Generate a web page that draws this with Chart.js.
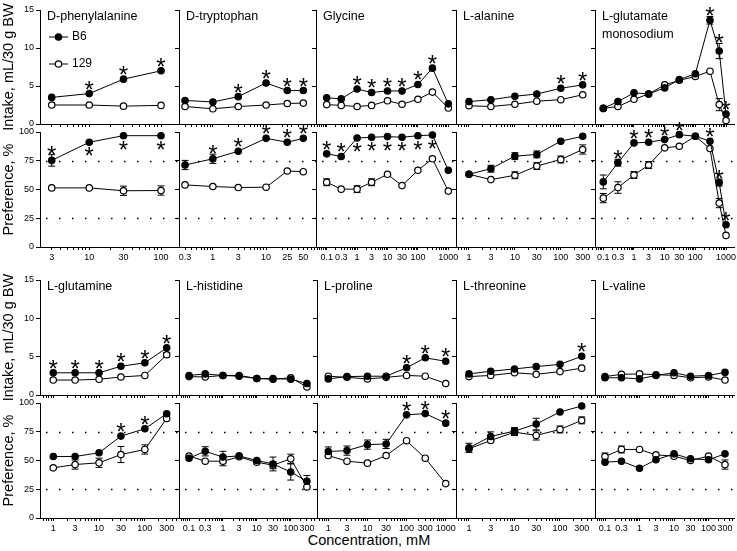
<!DOCTYPE html>
<html>
<head>
<meta charset="utf-8">
<script src="https://cdn.jsdelivr.net/npm/chart.js@4.4.0/dist/chart.umd.min.js"></script>
<style>
  body { margin: 0; background: #fff; width: 737px; height: 551px; position: relative; overflow: hidden; }
  canvas { position: absolute; }
  #xtitle { position: absolute; left: 369px; top: 532px; transform: translateX(-50%);
            font: 14.5px "Liberation Sans", Arial, sans-serif; color: #000; white-space: nowrap; }
</style>
</head>
<body>
<div id="xtitle">Concentration, mM</div>
<script>
// --- data (intake mL/30 g BW, preference %) ---

// D-phenylalanine
const pheConc = [3, 10, 30, 100];
const pheTicks = ['3', '10', '30', '100'];
const pheIntakeB6 = [3.5, 4.0, 5.9, 7.0];
const pheIntake129 = [2.5, 2.5, 2.35, 2.45];
const phePrefB6 = [75.3, 91.1, 96.8, 96.8];
const phePref129 = [51.4, 51.4, 48.9, 49.1];
const phePrefErrB6 = [5, 0, 0, 0];
const phePrefErr129 = [0, 0, 4, 4];
const pheStarIntake = [0, 1, 1, 1];
const pheStarPref = [1, -1, -1, -1];

// D-tryptophan
const trpConc = [0.3, 1, 3, 10, 25, 50];
const trpTicks = ['0.3', '1', '3', '10', '25', '50'];
const trpIntakeB6 = [3.1, 2.9, 3.6, 5.4, 4.4, 4.4];
const trpIntake129 = [2.3, 2.0, 2.3, 2.5, 2.7, 2.75];
const trpPrefB6 = [71.3, 76.7, 83.3, 94.5, 91.1, 94.5];
const trpPref129 = [54.0, 52.6, 51.7, 52.0, 66.1, 65.5];
const trpPrefErrB6 = [4, 4, 0, 0, 0, 0];
const trpStarIntake = [0, 0, 1, 1, 1, 1];
const trpStarPref = [0, 1, 1, 1, 1, 1];

// Glycine
const glyConc = [0.1, 0.3, 1, 3, 10, 30, 100, 300, 1000];
const glyTicks = ['0.1', '0.3', '1', '3', '10', '30', '100', '1000'];
const glyIntakeB6 = [3.45, 3.3, 4.6, 4.15, 4.35, 4.35, 5.2, 7.35, 2.65];
const glyIntake129 = [2.55, 2.45, 2.3, 2.45, 3.05, 2.6, 3.25, 4.2, 2.1];
const glyPrefB6 = [81.0, 78.7, 94.8, 95.4, 96.0, 95.4, 96.8, 97.4, 66.7];
const glyPref129 = [56.3, 50.3, 50.3, 56.3, 63.2, 53.4, 66.7, 76.7, 48.6];
const glyPrefErr129 = [3, 0, 3, 3, 0, 0, 0, 0, 0];
const glyStarIntake = [0, 0, 1, 1, 1, 1, 1, 1, 0];
const glyStarPref = [1, 1, -1, -1, -1, -1, -1, -1, 0];

// L-alanine
const alaConc = [1, 3, 10, 30, 100, 300];
const alaTicks = ['1', '3', '10', '30', '100', '300'];
const alaIntakeB6 = [2.95, 3.2, 3.65, 3.95, 4.7, 5.15];
const alaIntake129 = [2.4, 2.3, 2.6, 3.0, 3.2, 3.85];
const alaPrefB6 = [63.2, 68.1, 79.0, 80.5, 92.0, 96.3];
const alaPref129 = [63.2, 58.6, 62.4, 70.4, 76.1, 84.8];
const alaPrefErrB6 = [0, 3, 3, 3, 0, 0];
const alaPrefErr129 = [0, 0, 3, 3, 3, 4];
const alaStarIntake = [0, 0, 0, 0, 1, 1];

// L-glutamate monosodium
const msgConc = [0.1, 0.3, 1, 3, 10, 30, 100, 300, 600, 1000];
const msgTicks = ['0.1', '0.3', '1', '3', '10', '30', '100', '1000'];
const msgIntakeB6 = [2.05, 2.95, 4.1, 3.95, 4.75, 5.85, 6.6, 13.65, 9.6, 1.3];
const msgIntake129 = [2.05, 2.3, 3.25, 3.95, 5.15, 5.75, 6.25, 6.95, 2.55, 0.45];
const msgIntakeErrB6 = [0, 0, 0, 0, 0, 0, 0, 0.5, 1.0, 0];
const msgIntakeErr129 = [0, 0, 0, 0, 0, 0, 0, 0, 0.8, 0];
const msgPrefB6 = [56.6, 73.3, 90.5, 91.1, 93.4, 97.7, 96.3, 92.0, 56.0, 19.3];
const msgPref129 = [42.5, 51.7, 62.6, 71.3, 86.2, 87.6, 96.3, 85.6, 38.2, 10.1];
const msgPrefErrB6 = [6, 3, 0, 0, 0, 0, 0, 0, 3, 0];
const msgPrefErr129 = [4, 5, 3, 3, 0, 0, 0, 0, 4, 0];
const msgStarIntake = [0, 0, 0, 0, 0, 0, 0, 1, 1, 1];
const msgStarPref = [0, 1, 1, 1, 1, 1, 0, 1, 1, 1];

// L-glutamine
const glnConc = [1, 3, 10, 30, 100, 300];
const glnTicks = ['1', '3', '10', '30', '100', '300'];
const glnIntakeB6 = [2.9, 2.9, 2.9, 3.75, 4.2, 6.15];
const glnIntake129 = [1.95, 1.95, 2.05, 2.35, 2.55, 5.25];
const glnIntakeErr129 = [0, 0, 0, 0, 0, 0.3];
const glnPrefB6 = [53.5, 53.5, 56.7, 71.2, 77.6, 90.7];
const glnPref129 = [43.6, 46.5, 48.0, 55.2, 59.6, 86.6];
const glnPrefErr129 = [0, 4, 4, 7, 4, 0];
const glnStarIntake = [1, 1, 1, 1, 1, 1];
const glnStarPref = [0, 0, 0, 1, 1, 0];

// L-histidine
const hisConc = [0.1, 0.3, 1, 3, 10, 30, 100, 300];
const hisTicks = ['0.1', '0.3', '1', '3', '10', '30', '100', '300'];
const hisIntakeB6 = [2.55, 2.75, 2.55, 2.55, 2.15, 2.15, 2.05, 1.5];
const hisIntake129 = [2.4, 2.35, 2.55, 2.45, 2.15, 2.05, 2.25, 1.05];
const hisPrefB6 = [52, 58, 53, 54, 50, 47, 40, 32];
const hisPref129 = [53.8, 49.4, 49.4, 53.2, 48.5, 45.9, 51.5, 27];
const hisPrefErrB6 = [0, 4, 5, 0, 0, 6, 7, 5];
const hisPrefErr129 = [0, 0, 4, 0, 0, 3, 4, 0];

// L-proline
const proConc = [1, 3, 10, 30, 100, 300, 1000];
const proTicks = ['1', '3', '10', '30', '100', '300', '1000'];
const proIntakeB6 = [2.1, 2.4, 2.45, 2.45, 3.55, 4.85, 4.4];
const proIntake129 = [2.45, 2.3, 2.1, 2.3, 2.55, 2.45, 1.5];
const proPrefB6 = [57.8, 58.6, 63.8, 64.4, 89.7, 90.8, 82.5];
const proPref129 = [54.3, 49.4, 47.7, 54.3, 67.2, 52.0, 29.9];
const proPrefErrB6 = [4, 4, 4, 4, 0, 0, 0];
const proStarIntake = [0, 0, 0, 0, 1, 1, 1];
const proStarPref = [0, 0, 0, 0, 1, 1, 1];

// L-threonine
const thrConc = [1, 3, 10, 30, 100, 300];
const thrTicks = ['1', '3', '10', '30', '100', '300'];
const thrIntakeB6 = [2.75, 3.1, 3.4, 3.7, 4.0, 5.05];
const thrIntake129 = [2.4, 2.55, 2.9, 2.7, 3.05, 3.5];
const thrPrefB6 = [61.0, 70.9, 75.6, 81.7, 92.2, 97.4];
const thrPref129 = [60.2, 67.4, 74.7, 71.8, 77.0, 84.9];
const thrPrefErrB6 = [4, 4, 3, 5, 0, 0];
const thrPrefErr129 = [0, 0, 3, 4, 3, 3];
const thrStarIntake = [0, 0, 0, 0, 0, 1];

// L-valine
const valConc = [0.1, 0.3, 1, 3, 10, 30, 100, 300];
const valTicks = ['0.1', '0.3', '1', '3', '10', '30', '100', '300'];
const valIntakeB6 = [2.25, 2.25, 2.1, 2.55, 2.9, 2.45, 2.55, 2.95];
const valIntake129 = [2.4, 2.7, 2.75, 2.65, 2.55, 2.25, 2.35, 1.95];
const valPrefB6 = [48.5, 49.4, 43.3, 50.6, 55.8, 51.5, 50.6, 55.8];
const valPref129 = [53.5, 59.6, 59.6, 54.9, 53.8, 50.0, 53.8, 46.5];
const valPrefErr129 = [3, 3, 0, 0, 0, 0, 0, 4];

const seriesNames = ['B6', '129'];

// panel list, in reading order
const panels = [
  { title: ['D-phenylalanine'], conc: pheConc, ticks: pheTicks, xMin: 2.06, xMax: 178,
    intake: [pheIntakeB6, pheIntake129], pref: [phePrefB6, phePref129],
    intakeErr: [], prefErr: [phePrefErrB6, phePrefErr129], intakeStars: pheStarIntake, prefStars: pheStarPref },
  { title: ['D-tryptophan'], conc: trpConc, ticks: trpTicks, xMin: 0.231, xMax: 86.6,
    intake: [trpIntakeB6, trpIntake129], pref: [trpPrefB6, trpPref129],
    intakeErr: [], prefErr: [trpPrefErrB6], intakeStars: trpStarIntake, prefStars: trpStarPref },
  { title: ['Glycine'], conc: glyConc, ticks: glyTicks, xMin: 0.0445, xMax: 1790,
    intake: [glyIntakeB6, glyIntake129], pref: [glyPrefB6, glyPref129],
    intakeErr: [], prefErr: [null, glyPrefErr129], intakeStars: glyStarIntake, prefStars: glyStarPref },
  { title: ['L-alanine'], conc: alaConc, ticks: alaTicks, xMin: 0.521, xMax: 556,
    intake: [alaIntakeB6, alaIntake129], pref: [alaPrefB6, alaPref129],
    intakeErr: [], prefErr: [alaPrefErrB6, alaPrefErr129], intakeStars: alaStarIntake, prefStars: null },
  { title: ['L-glutamate', 'monosodium'], conc: msgConc, ticks: msgTicks, xMin: 0.0536, xMax: 1820,
    intake: [msgIntakeB6, msgIntake129], pref: [msgPrefB6, msgPref129],
    intakeErr: [msgIntakeErrB6, msgIntakeErr129], prefErr: [msgPrefErrB6, msgPrefErr129],
    intakeStars: msgStarIntake, prefStars: msgStarPref },
  { title: ['L-glutamine'], conc: glnConc, ticks: glnTicks, xMin: 0.513, xMax: 557,
    intake: [glnIntakeB6, glnIntake129], pref: [glnPrefB6, glnPref129],
    intakeErr: [null, glnIntakeErr129], prefErr: [null, glnPrefErr129], intakeStars: glnStarIntake, prefStars: glnStarPref },
  { title: ['L-histidine'], conc: hisConc, ticks: hisTicks, xMin: 0.0505, xMax: 595,
    intake: [hisIntakeB6, hisIntake129], pref: [hisPrefB6, hisPref129],
    intakeErr: [], prefErr: [hisPrefErrB6, hisPrefErr129], intakeStars: null, prefStars: null },
  { title: ['L-proline'], conc: proConc, ticks: proTicks, xMin: 0.514, xMax: 1832,
    intake: [proIntakeB6, proIntake129], pref: [proPrefB6, proPref129],
    intakeErr: [], prefErr: [proPrefErrB6], intakeStars: proStarIntake, prefStars: proStarPref },
  { title: ['L-threonine'], conc: thrConc, ticks: thrTicks, xMin: 0.518, xMax: 588,
    intake: [thrIntakeB6, thrIntake129], pref: [thrPrefB6, thrPref129],
    intakeErr: [], prefErr: [thrPrefErrB6, thrPrefErr129], intakeStars: thrStarIntake, prefStars: null },
  { title: ['L-valine'], conc: valConc, ticks: valTicks, xMin: 0.0513, xMax: 547,
    intake: [valIntakeB6, valIntake129], pref: [valPrefB6, valPref129],
    intakeErr: [], prefErr: [null, valPrefErr129], intakeStars: null, prefStars: null }
];

// page layout
const colLeft = [[40, 179, 316, 456, 595], [40, 179, 317, 456, 595]];
const lastRight = 734;
const rowBox = [
  { intake: [10, 124], pref: [132, 247] },
  { intake: [280, 395], pref: [403, 518] }
];

const FONT = '"Liberation Sans", Arial, sans-serif';
const TICK_FONT = { family: FONT, size: 9 };
Chart.defaults.font.family = FONT;
Chart.defaults.color = '#000';

// log axis ticks: every 1..9 x 10^k plus the labelled ones
function logTicks(min, max, labels) {
  const vals = [];
  for (let e = Math.floor(Math.log10(min)); e <= Math.ceil(Math.log10(max)); e++) {
    for (let m = 1; m <= 9; m++) {
      const v = +(m * Math.pow(10, e)).toPrecision(6);
      if (v >= min && v <= max) vals.push(v);
    }
  }
  labels.forEach(t => { const v = parseFloat(t); if (!vals.includes(v)) vals.push(v); });
  vals.sort((a, b) => a - b);
  return vals.map(v => ({ value: v, txt: labels.find(t => parseFloat(t) === v) || '' }));
}

// error bars, reference dots, stars, titles, legend
function extras(info) {
  return {
    id: 'extras',
    beforeDatasetsDraw(chart) {
      const ctx = chart.ctx, a = chart.chartArea, ys = chart.scales.y;
      ctx.save();
      ctx.strokeStyle = '#000';
      if (info.kind === 'pref') {
        ctx.lineWidth = 1.5;
        ctx.setLineDash([1.5, 11.5]);
        [25, 75].forEach(v => {
          const py = Math.round(ys.getPixelForValue(v)) + 0.5;
          ctx.beginPath(); ctx.moveTo(a.left + 6, py); ctx.lineTo(a.right, py); ctx.stroke();
        });
        ctx.setLineDash([]);
      }
      ctx.lineWidth = 1;
      chart.data.datasets.forEach((ds, i) => {
        const err = info.err[i];
        if (!err) return;
        chart.getDatasetMeta(i).data.forEach((pt, j) => {
          if (!err[j]) return;
          const v = ds.data[j].y;
          const t = ys.getPixelForValue(v + err[j]), b = ys.getPixelForValue(v - err[j]);
          ctx.beginPath();
          ctx.moveTo(pt.x, t); ctx.lineTo(pt.x, b);
          ctx.moveTo(pt.x - 3.5, t); ctx.lineTo(pt.x + 3.5, t);
          ctx.moveTo(pt.x - 3.5, b); ctx.lineTo(pt.x + 3.5, b);
          ctx.stroke();
        });
      });
      ctx.restore();
    },
    afterDatasetsDraw(chart) {
      const ctx = chart.ctx, a = chart.chartArea, ys = chart.scales.y;
      ctx.save();
      ctx.fillStyle = '#000';
      if (info.stars) {
        const err = info.err[0] || [];
        const ds = chart.data.datasets[0];
        ctx.font = '24px ' + FONT;
        ctx.textAlign = 'center';
        ctx.textBaseline = 'alphabetic';
        chart.getDatasetMeta(0).data.forEach((pt, j) => {
          const s = info.stars[j];
          if (!s) return;
          const ePx = err[j] ? pt.y - ys.getPixelForValue(ds.data[j].y + err[j]) : 0;
          const cy = s > 0 ? pt.y - Math.max(10, ePx + 6) : pt.y + 8;
          ctx.fillText('*', pt.x, cy + 14);
        });
      }
      if (info.title) {
        ctx.font = '12.5px ' + FONT;
        ctx.textAlign = 'left';
        ctx.textBaseline = 'middle';
        info.title.forEach((line, k) => ctx.fillText(line, a.left + 7, a.top + 7 + k * 18));
      }
      if (info.legend) {
        const sets = chart.data.datasets;
        sets.forEach((ds, k) => {
          const y = a.top + 27 + k * 27, x0 = a.left + 9, x1 = a.left + 28, xm = (x0 + x1) / 2;
          ctx.strokeStyle = '#000'; ctx.lineWidth = 1;
          ctx.beginPath(); ctx.moveTo(x0, y); ctx.lineTo(x1, y); ctx.stroke();
          ctx.beginPath(); ctx.arc(xm, y, ds.pointRadius, 0, Math.PI * 2);
          ctx.fillStyle = ds.pointBackgroundColor; ctx.fill();
          ctx.lineWidth = ds.pointBorderWidth; ctx.stroke();
          ctx.fillStyle = '#000';
          ctx.font = '12px ' + FONT;
          ctx.textAlign = 'left'; ctx.textBaseline = 'middle';
          ctx.fillText(ds.label, x1 + 4, y);
        });
      }
      ctx.restore();
    }
  };
}

function makeChart(p, idx, kind) {
  const row = idx < 5 ? 0 : 1, col = idx % 5;
  const L = colLeft[row][col], R = col < 4 ? colLeft[row][col + 1] : lastRight;
  const [T, B] = rowBox[row][kind];
  const mb = kind === 'pref' ? 22 : 8;
  const cv = document.createElement('canvas');
  cv.width = R - L + 48;
  cv.height = B - T + 14 + mb;
  cv.style.left = (L - 40) + 'px';
  cv.style.top = (T - 14) + 'px';
  document.body.appendChild(cv);

  const vals = p[kind];
  const datasets = vals.map((arr, k) => ({
    label: seriesNames[k],
    data: p.conc.map((c, j) => ({ x: c, y: arr[j] })),
    borderColor: '#000',
    borderWidth: 1,
    pointRadius: 3.2,
    pointBorderWidth: 1.2,
    pointBorderColor: '#000',
    pointBackgroundColor: k === 0 ? '#000' : '#fff',
    tension: 0,
    clip: false
  }));
  const isPref = kind === 'pref';
  const xTicks = logTicks(p.xMin, p.xMax, p.ticks);

  new Chart(cv, {
    type: 'line',
    data: { datasets },
    options: {
      responsive: false,
      animation: false,
      events: [],
      layout: { padding: { left: 0, right: 8, top: 14, bottom: 0 } },
      plugins: { legend: { display: false }, tooltip: { enabled: false } },
      scales: {
        x: {
          type: 'logarithmic',
          min: p.xMin, max: p.xMax,
          afterBuildTicks: s => { s.ticks = xTicks.map(t => ({ value: t.value, txt: t.txt })); },
          afterFit: s => { s.height = mb; },
          ticks: {
            autoSkip: false, maxRotation: 0, minRotation: 0, padding: 2,
            font: TICK_FONT, color: '#000',
            callback: (v, i, t) => isPref ? t[i].txt : ''
          },
          grid: { drawOnChartArea: false, tickLength: 3, tickColor: '#000', tickWidth: 1 },
          border: { color: '#000', width: 1 }
        },
        y: {
          min: 0, max: isPref ? 100 : 15,
          afterFit: s => { s.width = 40; },
          ticks: {
            stepSize: isPref ? 25 : 5, padding: 2, font: TICK_FONT, color: '#000',
            callback: v => col === 0 ? v : ''
          },
          grid: { drawOnChartArea: false, tickLength: 4, tickColor: '#000', tickWidth: 1 },
          border: { color: '#000', width: 1 },
          title: {
            display: col === 0,
            text: isPref ? 'Preference, %' : 'Intake, mL/30 g BW',
            font: { size: 14.5, family: FONT },
            color: '#000',
            padding: 0
          }
        }
      }
    },
    plugins: [extras({
      kind,
      err: isPref ? p.prefErr : p.intakeErr,
      stars: isPref ? p.prefStars : p.intakeStars,
      title: isPref ? null : p.title,
      legend: !isPref && idx === 0
    })]
  });
}

panels.forEach((p, idx) => {
  makeChart(p, idx, 'intake');
  makeChart(p, idx, 'pref');
});
</script>
</body>
</html>
